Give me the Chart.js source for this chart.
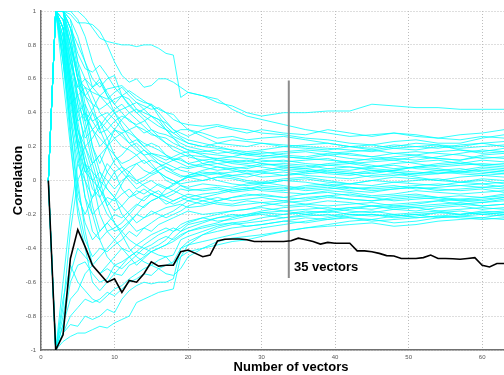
<!DOCTYPE html>
<html><head><meta charset="utf-8">
<script src="https://cdn.jsdelivr.net/npm/chart.js@4/dist/chart.umd.min.js"></script>
<style>
html,body{margin:0;padding:0;background:#fff;overflow:hidden;width:504px;height:375px}
#wrap{position:absolute;left:0;top:0;width:541px;height:375px}
</style>
</head><body><div id="wrap"><canvas id="c"></canvas></div>
<script>
// x positions at which the cyan runs were read
const sampleX = [1,2,3,4,5,6,7,8,9,10,11,12,13,14,15,16,17,18,19,20,22,24,26,28,30,33,36,39,42,45,48,51,54,57,60,63];

const run01 = [0,1,1,1,1,0.96,0.9,0.84,0.82,0.81,0.80,0.80,0.79,0.80,0.80,0.78,0.75,0.74,0.49,0.52,0.50,0.46,0.44,0.40,0.38,0.40,0.40,0.41,0.41,0.45,0.44,0.43,0.43,0.42,0.42,0.42];
const run02 = [0,1,1,0.98,0.93,0.93,0.92,0.88,0.80,0.70,0.62,0.58,0.60,0.55,0.56,0.60,0.60,0.58,0.55,0.52,0.50,0.48,0.42,0.38,0.36,0.33,0.30,0.28,0.26,0.27,0.28,0.26,0.25,0.27,0.28,0.30];
const run03 = [0,1,1,0.9,0.75,0.66,0.64,0.68,0.62,0.55,0.56,0.52,0.48,0.46,0.45,0.42,0.40,0.36,0.34,0.33,0.32,0.33,0.31,0.30,0.28,0.27,0.25,0.24,0.22,0.21,0.23,0.24,0.22,0.22,0.25,0.27];
const run04 = [0,1,1,0.85,0.6,0.55,0.52,0.50,0.48,0.52,0.55,0.50,0.46,0.44,0.42,0.43,0.40,0.39,0.34,0.30,0.26,0.22,0.21,0.20,0.22,0.21,0.20,0.19,0.18,0.17,0.19,0.2,0.21,0.18,0.17,0.19];
const run05 = [0,1,0.95,0.7,0.45,0.35,0.42,0.50,0.54,0.55,0.50,0.44,0.40,0.36,0.30,0.28,0.27,0.25,0.22,0.20,0.18,0.16,0.17,0.15,0.14,0.16,0.17,0.15,0.13,0.12,0.14,0.15,0.13,0.12,0.15,0.16];
const run06 = [0,1,0.9,0.6,0.3,0.2,0.25,0.32,0.38,0.42,0.45,0.40,0.36,0.32,0.28,0.25,0.22,0.18,0.16,0.14,0.12,0.10,0.11,0.12,0.10,0.09,0.08,0.10,0.11,0.09,0.07,0.08,0.09,0.10,0.12,0.11];
const run07 = [0,1,1,0.75,0.5,0.38,0.30,0.20,0.25,0.30,0.26,0.22,0.24,0.20,0.16,0.15,0.14,0.12,0.13,0.10,0.08,0.06,0.07,0.05,0.06,0.08,0.07,0.05,0.04,0.06,0.05,0.03,0.04,0.06,0.08,0.07];
const run08 = [0,1,0.8,0.5,0.2,0.05,0.10,0.15,0.05,0.0,0.05,0.08,0.10,0.06,0.04,0.06,0.08,0.05,0.03,0.02,0.04,0.05,0.03,0.02,0.04,0.05,0.03,0.02,0.01,0.03,0.04,0.02,0.0,0.02,0.03,0.02];
const run09 = [0,1,0.85,0.55,0.3,0.1,-0.05,-0.1,-0.02,0.05,0.08,0.02,-0.02,0.0,0.03,0.05,0.02,0.0,-0.02,-0.01,0.0,0.02,0.01,-0.01,-0.02,0.0,-0.01,-0.03,-0.02,0.0,-0.01,-0.02,-0.03,-0.01,0.0,-0.02];
const run10 = [0,1,0.7,0.4,0.15,-0.1,-0.2,-0.15,-0.1,-0.12,-0.08,-0.05,-0.1,-0.12,-0.08,-0.06,-0.1,-0.08,-0.05,-0.06,-0.05,-0.04,-0.06,-0.05,-0.03,-0.04,-0.06,-0.05,-0.04,-0.06,-0.05,-0.04,-0.06,-0.05,-0.04,-0.05];
const run11 = [0,1,0.9,0.6,0.35,0.1,-0.15,-0.3,-0.25,-0.2,-0.22,-0.18,-0.14,-0.16,-0.12,-0.1,-0.14,-0.12,-0.1,-0.08,-0.1,-0.12,-0.1,-0.09,-0.08,-0.1,-0.11,-0.09,-0.08,-0.1,-0.09,-0.08,-0.1,-0.09,-0.1,-0.08];
const run12 = [0,1,0.75,0.3,-0.05,-0.25,-0.35,-0.3,-0.25,-0.3,-0.28,-0.24,-0.2,-0.22,-0.2,-0.18,-0.16,-0.15,-0.14,-0.16,-0.15,-0.13,-0.14,-0.12,-0.13,-0.15,-0.14,-0.12,-0.13,-0.15,-0.14,-0.13,-0.12,-0.14,-0.13,-0.12];
const run13 = [0,1,0.6,0.2,-0.15,-0.35,-0.45,-0.4,-0.42,-0.38,-0.35,-0.3,-0.33,-0.28,-0.3,-0.26,-0.24,-0.22,-0.2,-0.18,-0.2,-0.19,-0.18,-0.17,-0.16,-0.18,-0.17,-0.16,-0.18,-0.19,-0.17,-0.16,-0.18,-0.17,-0.16,-0.17];
const run14 = [0,1,0.8,0.4,0.0,-0.3,-0.5,-0.55,-0.5,-0.45,-0.4,-0.42,-0.38,-0.35,-0.32,-0.3,-0.28,-0.3,-0.26,-0.24,-0.22,-0.24,-0.23,-0.21,-0.2,-0.22,-0.21,-0.2,-0.22,-0.23,-0.21,-0.2,-0.22,-0.21,-0.2,-0.21];
const run15 = [0,-1,-0.95,-0.92,-0.9,-0.9,-0.88,-0.86,-0.87,-0.84,-0.82,-0.80,-0.72,-0.70,-0.68,-0.66,-0.65,-0.64,-0.45,-0.42,-0.40,-0.38,-0.36,-0.35,-0.33,-0.30,-0.28,-0.27,-0.26,-0.25,-0.27,-0.26,-0.24,-0.23,-0.22,-0.23];
const run16 = [0,-1,-0.9,-0.85,-0.86,-0.8,-0.82,-0.8,-0.76,-0.78,-0.7,-0.65,-0.62,-0.6,-0.61,-0.6,-0.6,-0.58,-0.4,-0.38,-0.36,-0.34,-0.32,-0.30,-0.28,-0.26,-0.24,-0.22,-0.2,-0.2,-0.22,-0.21,-0.19,-0.18,-0.2,-0.19];
const run17 = [0,-1,-0.7,-0.5,-0.6,-0.65,-0.7,-0.72,-0.68,-0.64,-0.62,-0.58,-0.55,-0.52,-0.5,-0.47,-0.45,-0.44,-0.35,-0.33,-0.3,-0.27,-0.25,-0.24,-0.22,-0.2,-0.18,-0.19,-0.17,-0.15,-0.16,-0.15,-0.14,-0.13,-0.15,-0.14];
const run18 = [0,-1,-0.6,-0.2,0.1,0.2,0.05,-0.1,-0.2,-0.25,-0.3,-0.35,-0.38,-0.4,-0.42,-0.44,-0.45,-0.5,-0.45,-0.38,-0.32,-0.28,-0.26,-0.25,-0.24,-0.22,-0.2,-0.18,-0.16,-0.17,-0.15,-0.14,-0.12,-0.11,-0.12,-0.1];
const run19 = [0,1,0.95,0.8,0.6,0.35,0.15,0.0,-0.15,-0.25,-0.32,-0.4,-0.45,-0.48,-0.5,-0.52,-0.55,-0.56,-0.52,-0.45,-0.4,-0.36,-0.34,-0.33,-0.32,-0.3,-0.28,-0.26,-0.24,-0.23,-0.25,-0.24,-0.22,-0.21,-0.22,-0.2];
const run20 = [0,1,1,0.95,0.7,0.45,0.2,0.1,0.2,0.3,0.36,0.4,0.42,0.38,0.35,0.32,0.3,0.28,0.25,0.22,0.2,0.19,0.18,0.17,0.18,0.2,0.19,0.18,0.2,0.21,0.19,0.18,0.2,0.19,0.2,0.21];
const run21 = [0,1,0.9,0.7,0.55,0.5,0.45,0.42,0.45,0.48,0.5,0.53,0.5,0.47,0.44,0.4,0.35,0.3,0.26,0.24,0.22,0.2,0.18,0.16,0.15,0.14,0.13,0.15,0.16,0.14,0.13,0.12,0.14,0.16,0.18,0.17];
const run22 = [0,1,1,0.8,0.6,0.4,0.35,0.38,0.4,0.36,0.3,0.28,0.25,0.22,0.2,0.18,0.15,0.13,0.12,0.1,0.12,0.13,0.14,0.13,0.12,0.11,0.12,0.13,0.1,0.08,0.1,0.11,0.12,0.1,0.09,0.1];
const run23 = [0,1,0.95,0.65,0.4,0.25,0.3,0.35,0.3,0.25,0.2,0.18,0.15,0.1,0.12,0.1,0.08,0.06,0.08,0.07,0.09,0.1,0.08,0.07,0.09,0.1,0.09,0.07,0.06,0.08,0.09,0.07,0.06,0.05,0.07,0.06];
const run24 = [0,1,0.8,0.45,0.2,0.3,0.4,0.35,0.25,0.15,0.1,0.12,0.15,0.18,0.14,0.1,0.06,0.04,0.02,0.03,0.05,0.04,0.02,0.0,-0.01,0.01,0.02,0.0,-0.02,-0.03,-0.01,0.0,0.01,-0.01,-0.02,-0.01];
const run25 = [0,1,0.7,0.35,0.1,0.0,-0.1,-0.05,0.05,0.12,0.15,0.2,0.22,0.18,0.15,0.12,0.1,0.08,0.06,0.05,0.03,0.04,0.05,0.06,0.05,0.03,0.04,0.05,0.04,0.02,0.03,0.04,0.05,0.04,0.03,0.04];
const run26 = [0,1,0.85,0.5,0.25,0.1,0.0,-0.05,-0.12,-0.18,-0.15,-0.1,-0.06,-0.08,-0.05,-0.02,-0.04,-0.06,-0.08,-0.1,-0.08,-0.07,-0.05,-0.04,-0.06,-0.07,-0.08,-0.06,-0.07,-0.09,-0.08,-0.06,-0.07,-0.08,-0.07,-0.06];
const run27 = [0,1,1,0.9,0.65,0.4,0.2,0.05,-0.05,-0.1,-0.15,-0.2,-0.25,-0.22,-0.18,-0.2,-0.22,-0.2,-0.18,-0.15,-0.12,-0.1,-0.12,-0.11,-0.1,-0.12,-0.1,-0.09,-0.11,-0.12,-0.11,-0.1,-0.11,-0.12,-0.11,-0.1];
const run28 = [0,1,0.9,0.55,0.2,-0.1,-0.3,-0.35,-0.3,-0.28,-0.25,-0.2,-0.15,-0.1,-0.08,-0.1,-0.12,-0.14,-0.12,-0.1,-0.12,-0.14,-0.15,-0.14,-0.13,-0.12,-0.14,-0.15,-0.14,-0.13,-0.15,-0.16,-0.15,-0.14,-0.15,-0.14];
const run29 = [0,-1,-0.8,-0.55,-0.4,-0.45,-0.5,-0.45,-0.4,-0.35,-0.3,-0.25,-0.2,-0.15,-0.12,-0.1,-0.05,-0.02,0.0,0.02,0.03,0.0,-0.02,-0.03,-0.02,0.0,0.01,-0.01,-0.02,0.0,0.02,0.01,0.0,-0.01,0.01,0.0];
const run30 = [0,-1,-0.75,-0.3,0.0,0.1,0.05,0.0,-0.05,-0.1,-0.2,-0.25,-0.3,-0.28,-0.25,-0.22,-0.2,-0.18,-0.15,-0.12,-0.1,-0.08,-0.06,-0.05,-0.04,-0.05,-0.03,-0.02,-0.04,-0.05,-0.04,-0.03,-0.02,-0.03,-0.04,-0.03];
const run31 = [0,1,1,0.9,0.8,0.7,0.6,0.55,0.6,0.62,0.5,0.45,0.4,0.42,0.45,0.38,0.32,0.28,0.3,0.3,0.28,0.25,0.26,0.24,0.25,0.26,0.24,0.22,0.2,0.18,0.2,0.22,0.21,0.2,0.22,0.23];
const run32 = [0,1,1,0.85,0.6,0.5,0.55,0.6,0.5,0.4,0.35,0.3,0.32,0.3,0.27,0.26,0.25,0.22,0.2,0.18,0.17,0.18,0.16,0.15,0.16,0.17,0.18,0.17,0.15,0.14,0.16,0.17,0.16,0.15,0.13,0.14];
const run33 = [0,1,0.95,0.8,0.45,0.2,0.1,0.15,0.2,0.15,0.08,0.05,0.0,0.02,0.05,0.08,0.1,0.12,0.1,0.08,0.1,0.12,0.11,0.1,0.11,0.12,0.1,0.09,0.1,0.11,0.12,0.1,0.08,0.09,0.1,0.09];
const run34 = [0,1,0.9,0.6,0.3,0.15,0.0,-0.2,-0.3,-0.35,-0.4,-0.45,-0.42,-0.38,-0.35,-0.32,-0.3,-0.28,-0.3,-0.26,-0.24,-0.22,-0.2,-0.21,-0.19,-0.18,-0.2,-0.21,-0.19,-0.18,-0.2,-0.19,-0.18,-0.2,-0.19,-0.18];
const run35 = [0,1,0.75,0.45,0.5,0.55,0.45,0.3,0.2,0.1,0.05,0.0,-0.05,-0.02,0.0,-0.03,-0.05,-0.03,0.0,0.02,0.0,0.02,0.03,0.04,0.02,0.03,0.05,0.06,0.05,0.04,0.06,0.05,0.04,0.05,0.06,0.05];
const run36 = [0,1,1,0.7,0.55,0.6,0.5,0.4,0.35,0.3,0.28,0.3,0.25,0.2,0.22,0.2,0.15,0.12,0.14,0.15,0.14,0.13,0.12,0.11,0.13,0.14,0.13,0.12,0.11,0.13,0.12,0.14,0.13,0.12,0.14,0.13];
const run37 = [0,1,0.8,0.3,-0.1,-0.2,-0.1,0.0,0.1,0.05,-0.05,-0.1,-0.08,-0.05,-0.08,-0.1,-0.08,-0.06,-0.03,-0.04,-0.02,-0.03,-0.04,-0.02,-0.01,-0.03,-0.05,-0.04,-0.06,-0.07,-0.05,-0.04,-0.05,-0.06,-0.05,-0.07];
const run38 = [0,-1,-0.85,-0.7,-0.65,-0.55,-0.5,-0.55,-0.52,-0.55,-0.56,-0.5,-0.48,-0.45,-0.42,-0.4,-0.38,-0.36,-0.33,-0.3,-0.28,-0.26,-0.25,-0.27,-0.26,-0.24,-0.25,-0.23,-0.22,-0.24,-0.23,-0.22,-0.21,-0.22,-0.23,-0.22];
const run39 = [0,1,1,0.95,0.85,0.7,0.55,0.5,0.45,0.4,0.42,0.44,0.46,0.42,0.38,0.36,0.34,0.3,0.28,0.26,0.3,0.32,0.3,0.28,0.3,0.28,0.27,0.3,0.28,0.26,0.28,0.27,0.25,0.24,0.26,0.25];
const run40 = [0,1,0.9,0.65,0.35,0.4,0.3,0.25,0.2,0.25,0.28,0.22,0.18,0.15,0.16,0.14,0.12,0.14,0.16,0.17,0.16,0.15,0.14,0.16,0.17,0.15,0.14,0.16,0.17,0.18,0.16,0.15,0.17,0.18,0.16,0.17];
const run41 = [0,1,1,0.9,0.7,0.6,0.55,0.58,0.5,0.45,0.5,0.48,0.42,0.4,0.38,0.36,0.3,0.25,0.2,0.18,0.15,0.12,0.1,0.09,0.08,0.06,0.05,0.07,0.08,0.06,0.05,0.04,0.06,0.07,0.05,0.04];
const run42 = [0,1,0.9,0.6,0.4,0.45,0.35,0.28,0.3,0.35,0.38,0.36,0.32,0.28,0.3,0.26,0.22,0.2,0.18,0.16,0.1,0.08,0.06,0.04,0.05,0.07,0.06,0.04,0.03,0.05,0.06,0.08,0.07,0.05,0.04,0.06];
const run43 = [0,-1,-0.85,-0.6,-0.5,-0.48,-0.55,-0.6,-0.58,-0.5,-0.48,-0.45,-0.42,-0.44,-0.4,-0.38,-0.35,-0.3,-0.28,-0.25,-0.22,-0.2,-0.18,-0.17,-0.15,-0.13,-0.12,-0.1,-0.11,-0.12,-0.1,-0.09,-0.1,-0.11,-0.1,-0.09];
const run44 = [0,1,0.85,0.5,0.2,0.0,-0.2,-0.35,-0.45,-0.5,-0.52,-0.48,-0.44,-0.4,-0.38,-0.35,-0.33,-0.35,-0.32,-0.3,-0.27,-0.25,-0.22,-0.2,-0.18,-0.16,-0.15,-0.17,-0.16,-0.15,-0.17,-0.18,-0.16,-0.15,-0.17,-0.16];
const run45 = [0,1,1,0.8,0.65,0.5,0.4,0.3,0.35,0.4,0.32,0.25,0.2,0.15,0.1,0.05,0.02,0.0,-0.03,-0.05,-0.06,-0.05,-0.07,-0.06,-0.05,-0.06,-0.04,-0.03,-0.05,-0.04,-0.03,-0.05,-0.04,-0.03,-0.02,-0.04];
const run46 = [0,1,0.95,0.75,0.5,0.3,0.1,-0.05,-0.15,-0.1,-0.02,0.05,0.1,0.12,0.08,0.05,0.0,-0.02,0.0,0.03,0.06,0.08,0.07,0.08,0.1,0.08,0.07,0.09,0.08,0.07,0.06,0.08,0.1,0.11,0.09,0.08];
const run47 = [0,1,0.7,0.25,-0.2,-0.4,-0.6,-0.65,-0.6,-0.55,-0.5,-0.45,-0.5,-0.46,-0.42,-0.4,-0.38,-0.34,-0.3,-0.28,-0.25,-0.22,-0.21,-0.2,-0.19,-0.2,-0.19,-0.18,-0.2,-0.21,-0.2,-0.22,-0.21,-0.2,-0.19,-0.2];
const run48 = [0,1,1,1,0.95,0.85,0.7,0.6,0.52,0.45,0.4,0.35,0.33,0.35,0.38,0.34,0.3,0.26,0.24,0.22,0.2,0.22,0.24,0.23,0.22,0.2,0.21,0.22,0.2,0.19,0.21,0.2,0.19,0.21,0.22,0.2];
const run49 = [0,1,0.9,0.55,0.25,0.05,0.0,0.05,0.0,-0.05,0.0,0.03,0.0,-0.03,-0.06,-0.08,-0.1,-0.12,-0.1,-0.12,-0.14,-0.12,-0.1,-0.08,-0.09,-0.1,-0.08,-0.07,-0.09,-0.1,-0.12,-0.11,-0.1,-0.12,-0.13,-0.11];
const run50 = [0,-1,-0.9,-0.8,-0.75,-0.7,-0.72,-0.7,-0.66,-0.68,-0.64,-0.6,-0.58,-0.55,-0.56,-0.52,-0.5,-0.48,-0.4,-0.36,-0.32,-0.3,-0.28,-0.27,-0.26,-0.24,-0.22,-0.23,-0.21,-0.2,-0.21,-0.2,-0.19,-0.2,-0.18,-0.19];

const runs = [run01,run02,run03,run04,run05,run06,run07,run08,run09,run10,run11,run12,run13,run14,run15,run16,run17,run18,run19,run20,
              run21,run22,run23,run24,run25,run26,run27,run28,run29,run30,run31,run32,run33,run34,run35,run36,run37,run38,run39,run40,
              run41,run42,run43,run44,run45,run46,run47,run48,run49,run50];

// black run, read at every integer x
const meanX = [1,2,3,4,5,6,7,8,9,10,11,12,13,14,15,16,17,18,19,20,21,22,23,24,25,26,27,28,29,30,31,32,33,34,35,36,37,38,39,40,41,42,43,44,45,46,47,48,49,50,51,52,53,54,55,56,57,58,59,60,61,62,63];
const meanCorr = [0,-1,-0.91,-0.46,-0.29,-0.39,-0.5,-0.55,-0.6,-0.58,-0.66,-0.59,-0.6,-0.55,-0.48,-0.505,-0.5,-0.5,-0.42,-0.41,-0.43,-0.45,-0.44,-0.357,-0.347,-0.345,-0.345,-0.35,-0.36,-0.36,-0.36,-0.36,-0.36,-0.355,-0.34,-0.35,-0.36,-0.375,-0.365,-0.37,-0.37,-0.37,-0.415,-0.415,-0.42,-0.43,-0.443,-0.445,-0.46,-0.46,-0.46,-0.455,-0.44,-0.46,-0.46,-0.462,-0.465,-0.46,-0.455,-0.5,-0.51,-0.49,-0.49];

// marker line and its label
const markerX = [33.7, 33.7];
const markerY = [0.59, -0.575];
const markerText = '35 vectors';
const markerTextX = 34.4;
const markerTextY = -0.515;

const xTicks = [0,10,20,30,40,50,60];
const yTicks = [-1,-0.8,-0.6,-0.4,-0.2,0,0.2,0.4,0.6,0.8,1];
const xTitle = 'Number of vectors';
const yTitle = 'Correlation';

Chart.defaults.font.family = '"Liberation Sans", Arial, sans-serif';

const datasets = [];
datasets.push({
  data: meanX.map((x,i)=>({x, y: meanCorr[i]})),
  borderColor: '#000', borderWidth: 1.6, pointRadius: 0, order: 0
});
datasets.push({
  data: markerX.map((x,i)=>({x, y: markerY[i]})),
  borderColor: 'rgb(140,140,140)', borderWidth: 2, pointRadius: 0, order: 1
});
runs.forEach(r => datasets.push({
  data: sampleX.map((x,i)=>({x, y: r[i]})),
  borderColor: 'rgba(0,255,255,0.8)', borderWidth: 1, pointRadius: 0, order: 2
}));

const labelPlugin = {
  id: 'markerLabel',
  afterDatasetsDraw(chart) {
    const {ctx, scales: {x, y}} = chart;
    ctx.save();
    ctx.font = 'bold 13px "Liberation Sans", Arial, sans-serif';
    ctx.fillStyle = '#000';
    ctx.textAlign = 'left';
    ctx.textBaseline = 'middle';
    ctx.fillText(markerText, x.getPixelForValue(markerTextX), y.getPixelForValue(markerTextY));
    ctx.restore();
  }
};

new Chart(document.getElementById('c'), {
  type: 'line',
  data: { datasets },
  options: {
    responsive: true, maintainAspectRatio: false, animation: false,
    devicePixelRatio: 1,
    layout: { padding: { left: 0, right: 0, top: 11, bottom: 0 } },
    plugins: { legend: { display: false }, tooltip: { enabled: false } },
    elements: { line: { tension: 0 } },
    scales: {
      x: {
        type: 'linear', min: 0, max: 68,
        afterBuildTicks: s => { s.ticks = xTicks.map(v => ({value: v})); },
        afterFit: s => { s.height = 25; },
        grid: { color: '#bdbdbd', lineWidth: 1, drawTicks: false },
        border: { display: true, color: '#707070', width: 1.5, dash: [1, 2] },
        ticks: { font: { size: 6 }, color: '#555', padding: 4, maxRotation: 0,
                 callback: v => String(v) },
        title: { display: true, text: xTitle, font: { size: 13, weight: 'bold' }, color: '#000',
                 padding: { top: 0, bottom: 0 } }
      },
      y: {
        type: 'linear', min: -1, max: 1,
        afterBuildTicks: s => { s.ticks = yTicks.map(v => ({value: v})); },
        afterFit: s => { s.width = 41; },
        grid: { color: '#bdbdbd', lineWidth: 1, drawTicks: false },
        border: { display: true, color: '#707070', width: 1.5, dash: [1, 2] },
        ticks: { font: { size: 6 }, color: '#555', padding: 5,
                 callback: v => String(Math.round(v * 10) / 10) },
        title: { display: true, text: yTitle, font: { size: 13, weight: 'bold' }, color: '#000',
                 padding: { top: 11, bottom: 0 } }
      }
    }
  },
  plugins: [labelPlugin]
});
</script>
</body></html>
